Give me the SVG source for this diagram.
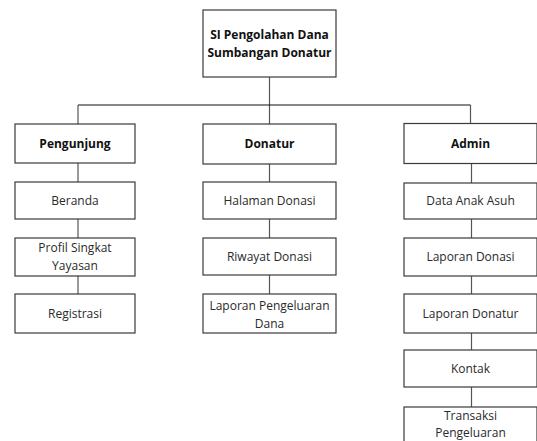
<svg xmlns="http://www.w3.org/2000/svg" width="537" height="441" viewBox="0 0 537 441">
<style>
.box{fill:#fff;stroke:#3a3a3a;stroke-width:1.2}
.t{font-family:"Open Sans","Liberation Sans",sans-serif;font-size:12px;fill:#2a2a2a;text-anchor:middle}
.b{font-weight:bold;fill:#111}
.c{stroke:#555;stroke-width:1.2;fill:none}
.h{stroke:#111;stroke-width:1.2;fill:none}
</style>
<rect width="537" height="441" fill="#fff"/>
<g id="connectors">
<line class="c" x1="269.5" y1="77" x2="269.5" y2="124"/>
<line class="h" x1="78" y1="105" x2="470.5" y2="105"/>
<line class="c" x1="78" y1="105" x2="78" y2="124"/>
<line class="c" x1="470.5" y1="105" x2="470.5" y2="124"/>
<line class="c" x1="78" y1="163" x2="78" y2="182"/>
<line class="c" x1="78" y1="219" x2="78" y2="238"/>
<line class="c" x1="78" y1="276" x2="78" y2="294"/>
<line class="c" x1="269.5" y1="164" x2="269.5" y2="182"/>
<line class="c" x1="269.5" y1="219" x2="269.5" y2="238"/>
<line class="c" x1="269.5" y1="275" x2="269.5" y2="294"/>
<line class="c" x1="471.5" y1="163" x2="471.5" y2="183"/>
<line class="c" x1="471.5" y1="219" x2="471.5" y2="238"/>
<line class="c" x1="471.5" y1="276" x2="471.5" y2="294"/>
<line class="c" x1="471.5" y1="333" x2="471.5" y2="350"/>
<line class="c" x1="471.5" y1="387" x2="471.5" y2="407"/>
</g>
<g id="root">
<rect class="box" x="203" y="10" width="133" height="67"/>
<text class="t b" x="269.5" y="39">SI Pengolahan Dana</text>
<text class="t b" x="269.5" y="57">Sumbangan Donatur</text>
</g>
<g id="pengunjung">
<rect class="box" x="15" y="124" width="120" height="39"/>
<text class="t b" x="75" y="147.5">Pengunjung</text>
</g>
<g id="beranda">
<rect class="box" x="15" y="182" width="120" height="37"/>
<text class="t" x="75" y="204.5">Beranda</text>
</g>
<g id="profil">
<rect class="box" x="15" y="238" width="120" height="38"/>
<text class="t" x="75" y="252">Profil Singkat</text>
<text class="t" x="75" y="270">Yayasan</text>
</g>
<g id="registrasi">
<rect class="box" x="15" y="294" width="120" height="39"/>
<text class="t" x="75" y="317.5">Registrasi</text>
</g>
<g id="donatur">
<rect class="box" x="203" y="124" width="133" height="40"/>
<text class="t b" x="269.5" y="148">Donatur</text>
</g>
<g id="halaman-donasi">
<rect class="box" x="203" y="182" width="133" height="37"/>
<text class="t" x="269.5" y="204.5">Halaman Donasi</text>
</g>
<g id="riwayat-donasi">
<rect class="box" x="203" y="238" width="133" height="37"/>
<text class="t" x="269.5" y="260.5">Riwayat Donasi</text>
</g>
<g id="laporan-pengeluaran-dana">
<rect class="box" x="203" y="294" width="133" height="39"/>
<text class="t" x="269.5" y="310">Laporan Pengeluaran</text>
<text class="t" x="269.5" y="328">Dana</text>
</g>
<g id="admin">
<rect class="box" x="404" y="123.5" width="133" height="40"/>
<text class="t b" x="470.5" y="147.5">Admin</text>
</g>
<g id="data-anak-asuh">
<rect class="box" x="404" y="183" width="133" height="36"/>
<text class="t" x="470.5" y="205">Data Anak Asuh</text>
</g>
<g id="laporan-donasi">
<rect class="box" x="404" y="238" width="133" height="38"/>
<text class="t" x="470.5" y="261">Laporan Donasi</text>
</g>
<g id="laporan-donatur">
<rect class="box" x="404" y="294" width="133" height="39"/>
<text class="t" x="470.5" y="317.5">Laporan Donatur</text>
</g>
<g id="kontak">
<rect class="box" x="404" y="350" width="133" height="37"/>
<text class="t" x="470.5" y="372.5">Kontak</text>
</g>
<g id="transaksi-pengeluaran">
<rect class="box" x="404" y="407" width="133" height="40"/>
<text class="t" x="470.5" y="420">Transaksi</text>
<text class="t" x="470.5" y="437">Pengeluaran</text>
</g>
</svg>
